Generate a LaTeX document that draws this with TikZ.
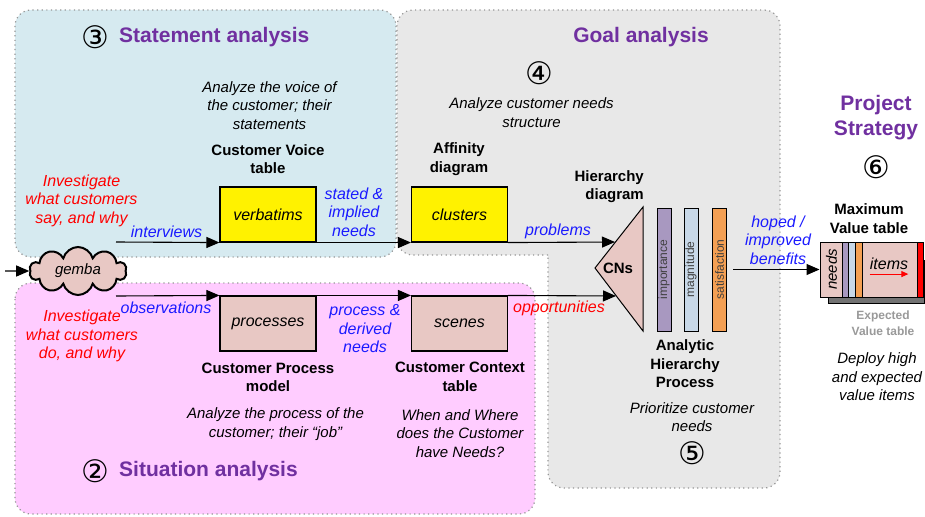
\documentclass[tikz,border=0pt]{standalone}
\usepackage{fontspec}
\setmainfont{Liberation Sans}
\newfontfamily\circfont{DejaVu Sans}
\usetikzlibrary{shapes.symbols,arrows.meta}
\definecolor{stmtblue}{RGB}{214,234,240}
\definecolor{goalgray}{RGB}{232,232,232}
\definecolor{situpink}{RGB}{255,204,255}
\definecolor{phasepurple}{RGB}{112,48,160}
\definecolor{boxpink}{RGB}{232,200,196}
\definecolor{barpurple}{RGB}{168,152,192}
\definecolor{barblue}{RGB}{200,216,232}
\definecolor{barorange}{RGB}{244,160,84}
\definecolor{flowblue}{RGB}{26,26,255}
\definecolor{edgegray}{RGB}{150,150,150}
\tikzset{
	region/.style={draw=edgegray,line width=1.2pt,dash pattern=on 1.2pt off 3.4pt,rounded corners=16pt},
	phase/.style={text=phasepurple,font=\fontsize{21}{25}\selectfont\bfseries,inner sep=0pt,align=center},
	numlbl/.style={font=\circfont\fontsize{31}{31}\selectfont,inner sep=0pt},
	what/.style={font=\fontsize{15}{18.5}\selectfont\itshape,align=center,inner sep=0pt},
	tool/.style={font=\fontsize{15}{18.5}\selectfont\bfseries,align=center,inner sep=0pt},
	flow/.style={text=flowblue,font=\fontsize{16}{18.5}\selectfont\itshape,align=center,inner sep=0pt},
	ask/.style={text=red,font=\fontsize{16}{18.5}\selectfont\itshape,align=center,inner sep=0pt},
	store/.style={draw,line width=1.1pt,minimum width=96pt,minimum height=55pt,inner sep=0pt,font=\fontsize{16}{18}\selectfont\itshape},
	bar/.style={draw,line width=1pt,minimum width=14pt,minimum height=123pt,inner sep=0pt,font=\fontsize{12}{12}\selectfont,text=black!75},
	link/.style={line width=1.1pt,-{Triangle[length=13pt,width=11pt]}},
}
\begin{document}
\begin{tikzpicture}[x=1pt,y=-1pt]
	\useasboundingbox (0,0) rectangle (925,516);
	\draw[region,fill=stmtblue] (15,10) rectangle (396,257);
	\draw[region,fill=goalgray] (548,255) -- (397,255) -- (397,10) -- (780,10) -- (780,488) -- (548,488) -- (548,255);
	\draw[region,fill=situpink] (15,283) rectangle (535,514);

	\node[numlbl] (n3) at (95,37) {③};
	\node[phase,anchor=west] (stmt) at (119,37) {Statement analysis};
	\node[phase] (goal) at (641,37) {Goal analysis};
	\node[numlbl] (n4) at (539,73) {④};
	\node[numlbl] (n2) at (95,471) {②};
	\node[phase,anchor=west] (situ) at (119,471) {Situation analysis};
	\node[phase] (proj) at (876,117.5) {Project\\Strategy};
	\node[numlbl] (n6) at (876.5,167.5) {⑥};
	\node[numlbl] (n5) at (692,453) {⑤};

	\node[what] (voicehint) at (269.5,105.5) {Analyze the voice of\\the customer; their\\statements};
	\node[tool] (cvt) at (268,159) {Customer Voice\\table};
	\node[what] (needhint) at (531.5,112.5) {Analyze customer needs\\structure};
	\node[tool] (aff) at (459,159) {Affinity\\diagram};
	\node[tool,anchor=east,align=right] (hier) at (644,186.5) {Hierarchy\\diagram};

	\node[store,fill=yellow] (verb) at (268,214.5) {verbatims};
	\node[store,fill=yellow] (clus) at (459.5,214.5) {clusters};
	\node[store,fill=boxpink] (proc) at (268,323.5) {processes};
	\node[store,fill=boxpink] (scen) at (459.5,323.5) {scenes};

	\node[cloud,cloud puffs=10,aspect=2,draw,line width=2pt,fill=boxpink,minimum width=97pt,minimum height=48pt,inner sep=0pt,font=\fontsize{15}{18}\selectfont\itshape] (gemba) at (78,271) {gemba};
	\coordinate (entry) at (5,271);
	\coordinate (gemba-up) at (116,242);
	\coordinate (gemba-dn) at (116,296);

	\node[ask] (say) at (81.5,200.5) {Investigate\\what customers\\say, and why};
	\node[ask] (do) at (82,336) {Investigate\\what customers\\do, and why};
	\node[flow] (intv) at (166.5,232) {interviews};
	\node[flow] (obs) at (166,308) {observations};
	\node[flow] (stated) at (354,212) {stated \&\\implied\\needs};
	\node[flow] (derived) at (365,329) {process \&\\derived\\needs};
	\node[flow] (prob) at (558,231) {problems};
	\node[ask] (opp) at (559,308) {opportunities};

	\node[tool] (cpm) at (268,377.5) {Customer Process\\model};
	\node[what] (jobhint) at (275.5,424) {Analyze the process of the\\customer; their ``job''};
	\node[tool] (cct) at (460,377) {Customer Context\\table};
	\node[what] (whenhint) at (460,433.5) {When and Where\\does the Customer\\have Needs?};

	\draw[line width=1pt,fill=boxpink] (595,268) -- (643,207) -- (643,331) -- cycle;
	\node[tool] (cns) at (618,268) {CNs};
	\coordinate (cns-up) at (615,242);
	\coordinate (cns-dn) at (616,296);
	\node[bar,fill=barpurple] (imp) at (664,269.5) {\rotatebox{90}{importance}};
	\node[bar,fill=barblue] (mag) at (691,269.5) {\rotatebox{90}{magnitude}};
	\node[bar,fill=barorange] (sat) at (719.5,269.5) {\rotatebox{90}{satisfaction}};
	\node[tool] (ahp) at (685,364) {Analytic\\Hierarchy\\Process};
	\node[what] (prihint) at (692,417) {Prioritize customer\\needs};

	\node[flow] (hoped) at (778,240) {hoped /\\improved\\benefits};
	\node[tool] (mvt) at (869,218.5) {Maximum\\Value table};
	\draw[line width=1pt,fill=black!55] (828,260) rectangle (924.5,303.5);
	\node[draw,line width=1pt,fill=boxpink,minimum width=103pt,minimum height=55pt,inner sep=0pt] (vt) at (871.5,269.5) {};
	\draw[line width=.8pt,fill=barpurple] (842,242) rectangle (848,297);
	\draw[line width=.8pt,fill=barblue] (848,242) rectangle (855,297);
	\draw[line width=.8pt,fill=barorange] (855,242) rectangle (862,297);
	\draw[line width=.8pt,fill=red] (917,242) rectangle (923,297);
	\node[font=\fontsize{15}{18}\selectfont\itshape,inner sep=0pt] (vneeds) at (831.5,269.5) {\rotatebox{90}{needs}};
	\node[font=\fontsize{16}{18}\selectfont\itshape,inner sep=0pt] (items) at (889,264) {items};
	\draw[red,line width=1pt,-{Triangle[length=7pt,width=6pt]}] ([yshift=-4pt]items.south west) -- ([yshift=-4pt]items.south east);
	\node[tool,text=black!40,font=\fontsize{12}{16}\selectfont\bfseries] (evt) at (883,323) {Expected\\Value table};
	\node[what] (deploy) at (877,377) {Deploy high\\and expected\\value items};

	\draw[link] (entry) -- (gemba.west);
	\draw[link] (gemba-up) -- (verb.south west);
	\draw[link] (verb.south east) -- (clus.south west);
	\draw[link] (clus.south east) -- (cns-up);
	\draw[link] (gemba-dn) -- (proc.north west);
	\draw[link] (proc.north east) -- (scen.north west);
	\draw[link] (scen.north east) -- (cns-dn);
	\draw[link] ([xshift=6pt]sat.east) -- (vt.west);
\end{tikzpicture}
\end{document}
